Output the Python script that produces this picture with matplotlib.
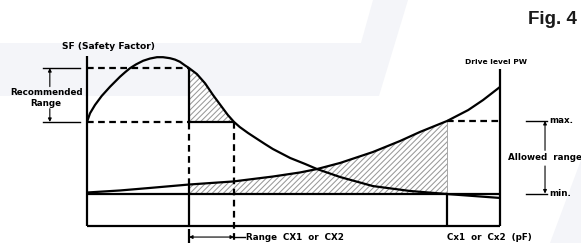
import matplotlib
matplotlib.use('Agg')
import matplotlib.pyplot as plt
import numpy as np
from matplotlib.patches import Polygon

# ---------------- data (arbitrary units) ----------------
cap_sf = [0.0, 0.73, 1.94, 3.56, 5.57, 7.99, 9.2, 10.4, 11.9, 13.6, 15.25, 16.95,
          18.4, 20.1, 21.3, 22.5, 23.7, 24.7, 26.6, 28.6, 30.5, 32.6, 34.1, 35.6,
          37.0, 39.0, 41.2, 43.1, 45.0, 49.2, 52.8, 55.7, 61.3, 69.2, 78.2, 87.2,
          100.0]
sf = [61.2, 66.3, 71.2, 76.5, 81.9, 87.8, 90.4, 92.8, 95.1, 97.2, 98.5, 99.3,
      99.3, 98.7, 97.9, 96.6, 94.5, 92.9, 89.4, 83.9, 77.1, 70.2, 65.3, 61.2,
      58.2, 54.7, 51.2, 48.2, 45.3, 40.0, 36.5, 33.5, 28.8, 23.5, 20.6, 18.8,
      16.5]

cap_drive = [0.0, 8.0, 15.3, 24.7, 35.4, 45.0, 51.6, 55.7, 61.3, 69.2, 75.8,
             80.6, 87.2, 92.3, 95.9, 100.0]
drive = [19.7, 20.9, 22.4, 24.4, 26.2, 29.1, 31.5, 33.5, 37.1, 43.5, 50.0,
         55.3, 61.8, 68.2, 74.1, 81.8]

sf_rec_max = 92.9
sf_rec_min = 61.2
drive_max = 61.8
drive_min = 19.1
cx_range_lo = 24.7
cx_range_hi = 35.6
cx_limit = 87.2
left_axis_top = 100.0
right_axis_top = 92.5

title_text = "Fig. 4"
sf_label = "SF (Safety Factor)"
drive_label = "Drive level PW"
rec_label = ["Recommended", "Range"]
allowed_label = "Allowed  range"
max_label = "max."
min_label = "min."
range_label = "Range  CX1  or  CX2"
cx_label = "Cx1  or  Cx2  (pF)"

# ---------------- figure ----------------
W, H = 581, 243
fig = plt.figure(figsize=(W / 100, H / 100), dpi=100)
fig.patch.set_facecolor('white')

# faint background watermark
wm = '#f4f5f9'
def fpoly(pts):
    return Polygon([(x / W, 1 - y / H) for x, y in pts], closed=True,
                   transform=fig.transFigure, facecolor=wm, edgecolor='none',
                   zorder=-10)
fig.add_artist(fpoly([(0, 43), (361, 43), (373, 0), (408, 0), (379, 96), (0, 96)]))
fig.add_artist(fpoly([(550, 243), (581, 243), (581, 160)]))

ax = fig.add_axes([87 / W, 17 / H, 413 / W, 170 / H])
ax.set_xlim(0, 100)
ax.set_ylim(0, 100)
ax.axis('off')

K = 'black'
lw = 1.6
dash = (0, (3, 2))
kw = dict(color=K, lw=lw, clip_on=False, solid_capstyle='butt', dash_capstyle='butt')

plt.rcParams['hatch.linewidth'] = 0.75
plt.rcParams['hatch.color'] = '#999999'

cs = np.array(cap_sf); s = np.array(sf)
cd = np.array(cap_drive); d = np.array(drive)

# hatched areas
m1 = (cs >= cx_range_lo) & (cs <= cx_range_hi)
ax.fill_between(cs[m1], sf_rec_min, s[m1], facecolor='white', hatch='//////',
                edgecolor='#999999', lw=0, zorder=1)
m2 = (cd >= cx_range_lo) & (cd <= cx_limit)
ax.fill_between(cd[m2], drive_min, d[m2], facecolor='white', hatch='//////',
                edgecolor='#999999', lw=0, zorder=1)
ax.plot([cx_limit, cx_limit], [drive_min, drive_max], color='#999999', lw=0.6, zorder=1)

# axes frame
ax.plot([0, 0], [0, left_axis_top], **kw)
ax.plot([0, 100], [0, 0], **kw)
ax.plot([100, 100], [0, right_axis_top], **kw)
ax.plot([0, 100], [drive_min, drive_min], **kw)

# curves
ax.plot(cs, s, zorder=3, solid_joinstyle='round', **kw)
ax.plot(cd, d, zorder=3, solid_joinstyle='round', **kw)

# recommended range guides
ax.plot([0, cx_range_lo], [sf_rec_max, sf_rec_max], ls=dash, **kw)
ax.plot([0, cx_range_lo], [sf_rec_min, sf_rec_min], ls=dash, **kw)
ax.plot([cx_range_lo, cx_range_hi], [sf_rec_min, sf_rec_min], **kw)
ax.plot([cx_range_lo, cx_range_lo], [sf_rec_min, sf_rec_max], **kw)
ax.plot([cx_range_lo, cx_range_lo], [np.interp(cx_range_lo, cd, d), sf_rec_min], ls=dash, **kw)
ax.plot([cx_range_lo, cx_range_lo], [0, np.interp(cx_range_lo, cd, d)], **kw)
ax.plot([cx_range_lo, cx_range_lo], [-1.8, -10.5], **kw)
ax.plot([cx_range_hi, cx_range_hi], [sf_rec_min, -10.5], ls=dash, **kw)

# drive limit guides
ax.plot([cx_limit, 100], [drive_max, drive_max], ls=dash, **kw)
ax.plot([cx_limit, cx_limit], [0, drive_min], **kw)

tkw = dict(color=K, lw=1.0, clip_on=False)
akw = dict(arrowstyle='-|>', color=K, lw=0.8, mutation_scale=5, shrinkA=0, shrinkB=0)

# Recommended range dimension (left)
xr = -9.0
ax.plot([-10.7, -1.7], [sf_rec_max, sf_rec_max], **tkw)
ax.plot([-10.7, -1.7], [sf_rec_min, sf_rec_min], **tkw)
ax.annotate('', xy=(xr, sf_rec_max), xytext=(xr, 82.0), arrowprops=akw, annotation_clip=False)
ax.annotate('', xy=(xr, sf_rec_min), xytext=(xr, 69.0), arrowprops=akw, annotation_clip=False)

fkw = dict(fontsize=6.3, fontweight='bold', color=K, family='DejaVu Sans')
ax.text(-9.9, 78.8, rec_label[0], ha='center', va='center', clip_on=False, **fkw)
ax.text(-9.9, 72.2, rec_label[1], ha='center', va='center', clip_on=False, **fkw)
ax.text(5.3, 105.3, sf_label, ha='center', va='center', fontsize=6.6,
        fontweight='bold', color=K, family='DejaVu Sans')
ax.text(99.0, 96.5, drive_label, ha='center', va='center', fontsize=5.4,
        fontweight='bold', color=K, family='DejaVu Sans')

# Allowed range dimension (right)
xa = 110.9
ax.plot([106.3, 111.4], [drive_max, drive_max], **tkw)
ax.plot([106.3, 111.4], [drive_min, drive_min], **tkw)
ax.annotate('', xy=(xa, drive_max), xytext=(xa, 44.5), arrowprops=akw, annotation_clip=False)
ax.annotate('', xy=(xa, drive_min), xytext=(xa, 35.3), arrowprops=akw, annotation_clip=False)
ax.text(112.0, drive_max, max_label, ha='left', va='center', **fkw)
ax.text(112.0, drive_min, min_label, ha='left', va='center', **fkw)
ax.text(101.9, 40.0, allowed_label, ha='left', va='center', **fkw)

# Range CX dimension (bottom)
yb = -6.5
ax.annotate('', xy=(cx_range_hi, yb), xytext=(cx_range_lo, yb),
            arrowprops=dict(arrowstyle='<|-|>', color=K, lw=0.8, mutation_scale=5,
                            shrinkA=0, shrinkB=0), annotation_clip=False)
ax.plot([cx_range_hi, 38.2], [yb, yb], **tkw)
ax.text(38.6, yb, range_label, ha='left', va='center', **fkw)
ax.text(cx_limit, yb, cx_label, ha='left', va='center', **fkw)

fig.text(577 / W, 1 - 20 / H, title_text, ha='right', va='center', fontsize=13.5,
         fontweight='bold', color='#1a1a1a', family='Liberation Sans')

fig.savefig('out.png', dpi=100)
